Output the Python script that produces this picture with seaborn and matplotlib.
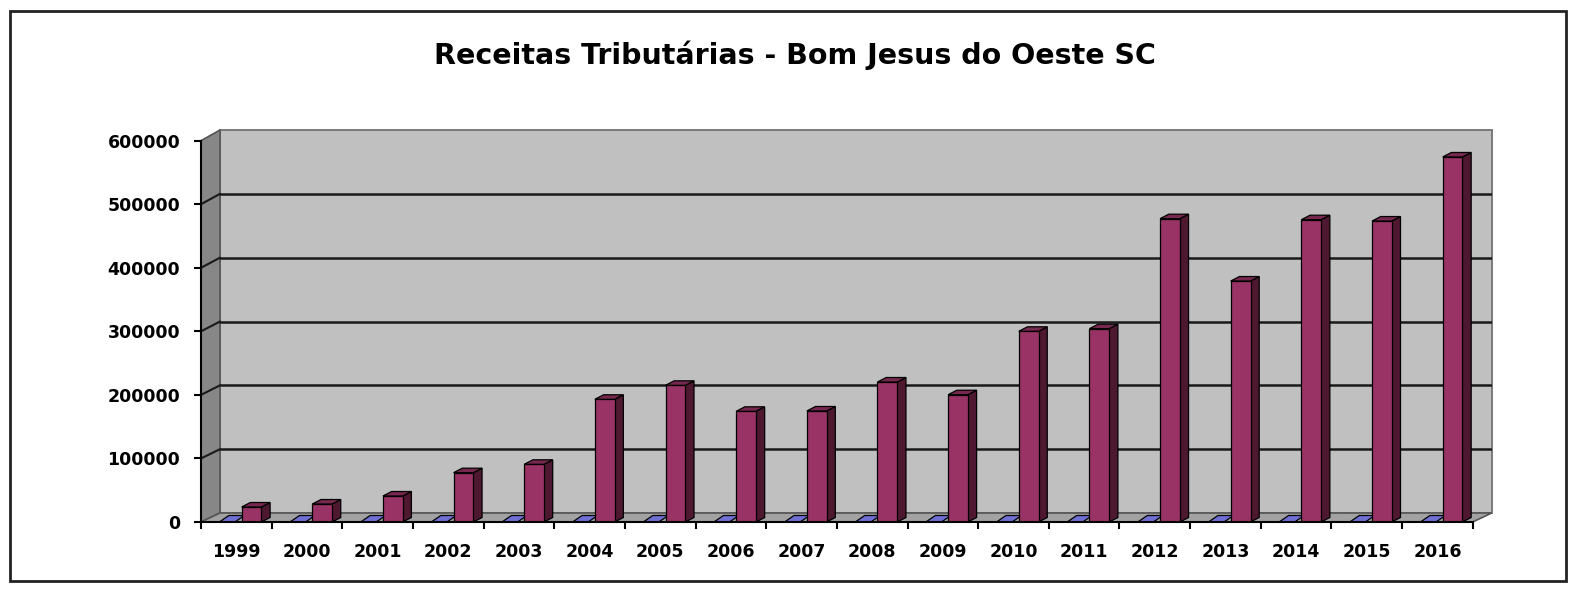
import matplotlib
matplotlib.use("Agg")
import matplotlib.pyplot as plt
import seaborn as sns
import pandas as pd
import numpy as np
from matplotlib.patches import Polygon, Rectangle

# ---- data ----
years = ["1999", "2000", "2001", "2002", "2003", "2004", "2005", "2006", "2007",
         "2008", "2009", "2010", "2011", "2012", "2013", "2014", "2015", "2016"]
serie_a = [0, 0, 0, 0, 0, 0, 0, 0, 0, 0, 0, 0, 0, 0, 0, 0, 0, 0]
serie_b = [23600, 28300, 40900, 77600, 90800, 193100, 215100, 174200, 174700,
           220300, 200300, 300100, 304200, 477300, 379200, 475700, 473600, 574400]
yticks = [0, 100000, 200000, 300000, 400000, 500000, 600000]
title = "Receitas Tributárias - Bom Jesus do Oeste SC"

df = pd.DataFrame({
    "ano": years * 2,
    "valor": serie_a + serie_b,
    "serie": ["A"] * len(years) + ["B"] * len(years),
})

sns.set_theme(style="white")
plt.rcParams["font.family"] = ["DejaVu Sans"]

W, H = 1575, 590
fig = plt.figure(figsize=(W / 100, H / 100), dpi=100)

# axes box in pixels
x_left, x_right = 201, 1492
y_bot, y_top = 522, 130
ax = fig.add_axes([x_left / W, 1 - y_bot / H, (x_right - x_left) / W, (y_bot - y_top) / H])

n = len(years)
cat_px = 70.65
px_per_val = 63.55 / 100000
xmin = -0.5
xmax = xmin + (x_right - x_left) / cat_px
ymax = (y_bot - y_top) / px_per_val

DX = 19 / cat_px            # wall depth in category units
DY = 9 / px_per_val          # wall depth in value units
xr = xmin + n                # front right edge

def yb(v):
    # back-wall position of value v
    return DY + v * (ymax - DY) / max(yticks)

# bars
sns.barplot(data=df, x="ano", y="valor", hue="serie", order=years, hue_order=["A", "B"],
            palette={"A": "#7373D2", "B": "#993366"}, width=0.56, saturation=1,
            edgecolor="black", linewidth=0.9, legend=False, ax=ax, zorder=2)

ax.set_xlim(xmin, xmax)
ax.set_ylim(0, ymax)
ax.set_facecolor("white")

# walls & floor
ax.add_patch(Rectangle((xmin + DX, DY), n, ymax - DY, facecolor="#C0C0C0",
                       edgecolor="#7A7A7A", lw=1.4, zorder=0, clip_on=False))
ax.add_patch(Polygon([(xmin, 0), (xmin + DX, DY), (xmin + DX, ymax), (xmin, max(yticks))],
                     closed=True, facecolor="#878787", edgecolor="#555555", lw=1.2, zorder=0.5,
                     clip_on=False))
ax.add_patch(Polygon([(xmin, 0), (xr, 0), (xr + DX, DY), (xmin + DX, DY)],
                     closed=True, facecolor="#A2A2A2", edgecolor="#555555", lw=1.2, zorder=0.5,
                     clip_on=False))

# gridlines on back wall and left wall
for v in yticks[1:-1]:
    ax.plot([xmin + DX, xr + DX], [yb(v), yb(v)], color="#1a1a1a", lw=1.8, zorder=0.8)
    ax.plot([xmin, xmin + DX], [v, yb(v)], color="#1a1a1a", lw=1.5, zorder=0.8)

bars = [p for p in ax.patches if isinstance(p, Rectangle) and p.get_zorder() == 2]
for p in bars:
    fc = matplotlib.colors.to_hex(p.get_facecolor()).lower()
    is_blue = fc == "#7373d2"
    p.set_x(p.get_x() + (0.04 if is_blue else 0.075))
    x0 = p.get_x()
    x1 = x0 + p.get_width()
    h = p.get_height()
    if is_blue:
        bdx, bdy = 9.5 / cat_px, 6.5 / px_per_val
        side, top, zs, zt = "#45458F", "#7070D4", 1.7, 1.8
        p.set_zorder(1.75)
        p.set_linewidth(0)
        x0v, x1v = x0, x1 - 0.06
    else:
        bdx, bdy = 8.7 / cat_px, 4.5 / px_per_val
        side, top, zs, zt = "#4E1830", "#76284F", 1.9, 2.1
        x0v, x1v = x0, x1
    if h > 0:
        ax.add_patch(Polygon([(x1v, 0), (x1v + bdx, bdy), (x1v + bdx, h + bdy), (x1v, h)],
                             closed=True, facecolor=side, edgecolor="black", lw=0.9, zorder=zs))
    ax.add_patch(Polygon([(x0v, h), (x0v + bdx, h + bdy), (x1v + bdx, h + bdy), (x1v, h)],
                         closed=True, facecolor=top, edgecolor="black", lw=0.9, zorder=zt))

# axes styling
for s in ["top", "right"]:
    ax.spines[s].set_visible(False)
ax.spines["left"].set_bounds(0, max(yticks))
ax.spines["bottom"].set_bounds(xmin, xr)
for s in ["left", "bottom"]:
    ax.spines[s].set_color("black")
    ax.spines[s].set_linewidth(1.5)
    ax.spines[s].set_zorder(3)

ax.set_yticks(yticks)
ax.set_yticklabels([str(v) for v in yticks])
ax.set_xticks(range(n))
ax.set_xticklabels(years)
ax.set_xticks(np.arange(xmin, xr + 0.01, 1.0), minor=True)
ax.tick_params(axis="y", which="major", length=5, width=1.5, color="black", direction="out",
               pad=10, labelsize=12.5, left=True)
ax.tick_params(axis="x", which="major", length=0, pad=15, labelsize=12.5)
ax.tick_params(axis="x", which="minor", length=5, width=1.5, color="black", direction="out",
               bottom=True)
for lab in ax.get_xticklabels() + ax.get_yticklabels():
    lab.set_fontweight("bold")
    lab.set_color("black")
ax.set_xlabel("")
ax.set_ylabel("")

fig.text(795 / W, 1 - 55 / H, title, ha="center", va="center", fontsize=20.5,
         fontweight="bold", color="black")

# outer border
fig.add_artist(Rectangle((10 / W, 1 - 581 / H), (1566 - 10) / W, (581 - 11) / H,
                         transform=fig.transFigure, fill=False, edgecolor="#222222", lw=2))

fig.savefig("out.png", dpi=100, facecolor="white")
